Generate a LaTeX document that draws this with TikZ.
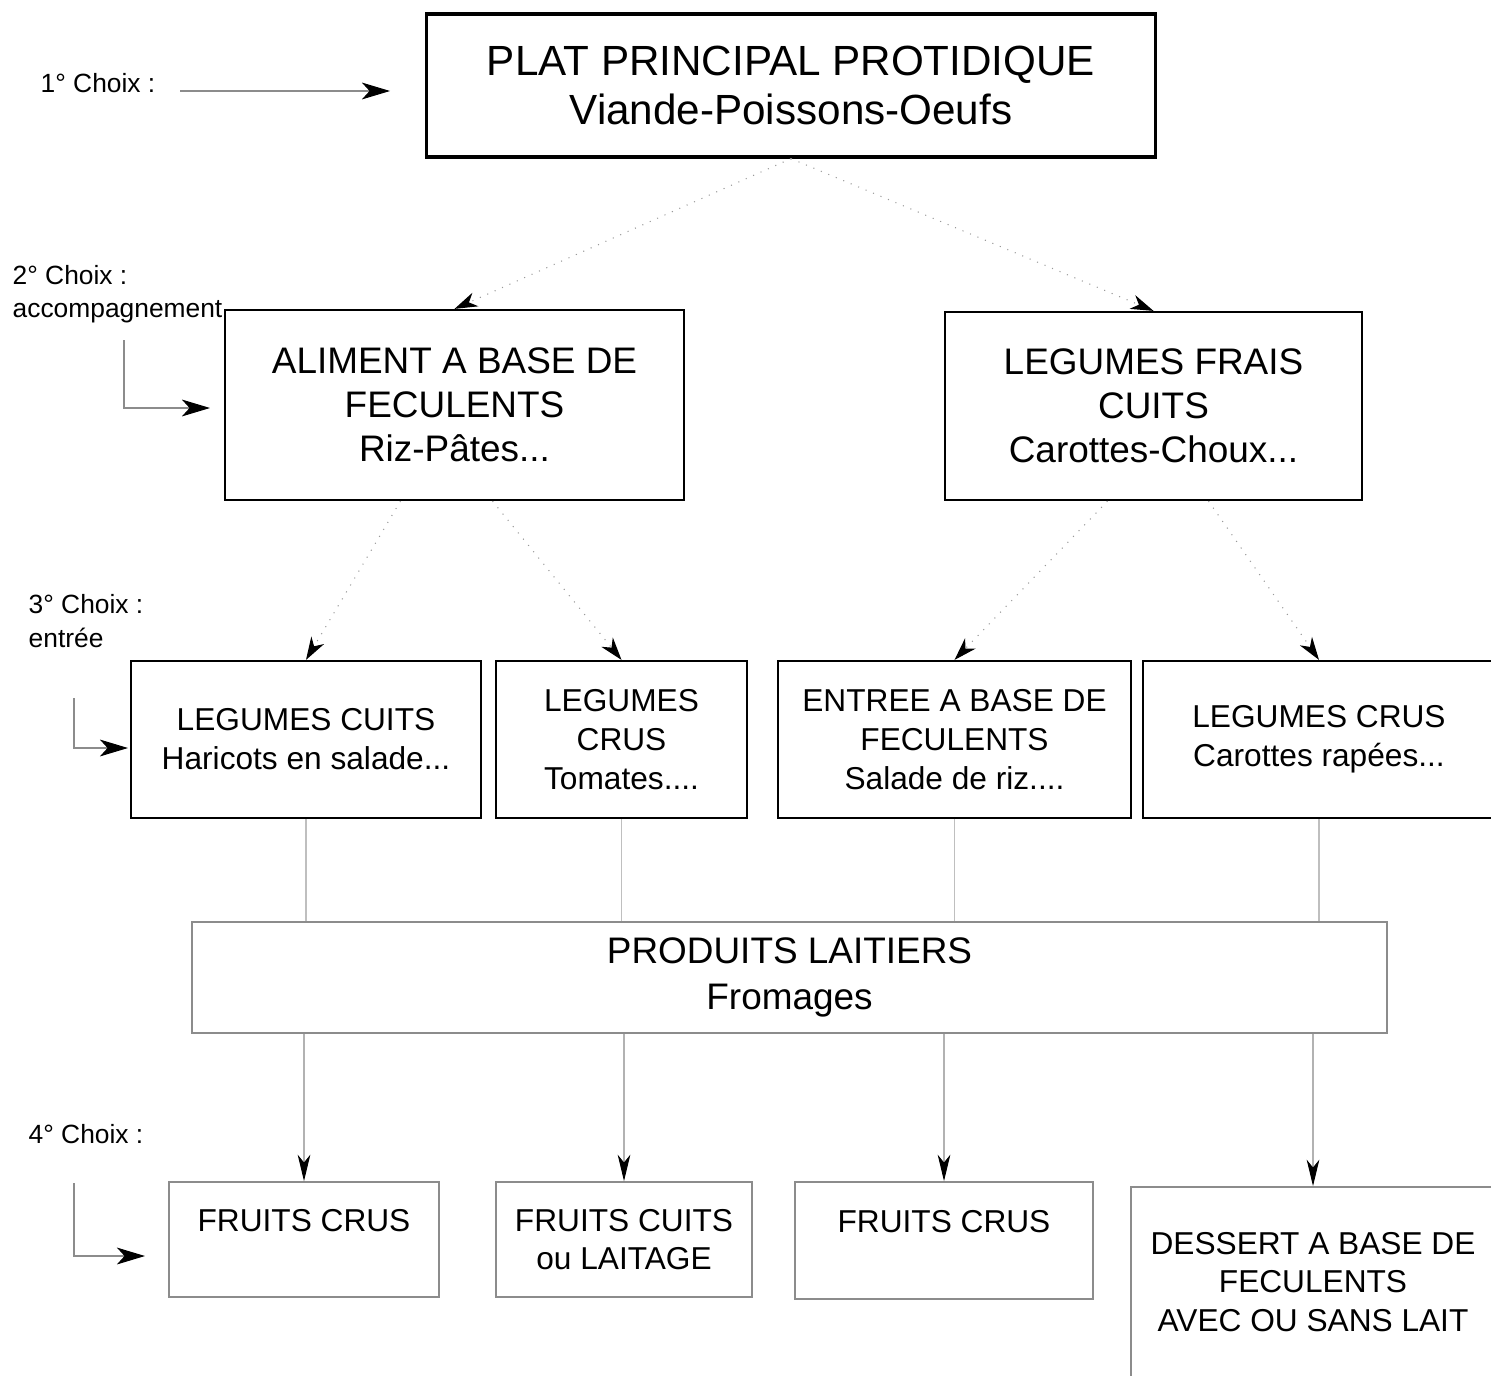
\documentclass[tikz,border=0pt]{standalone}
\usepackage{fontspec}
\setmainfont{Liberation Sans}
\usetikzlibrary{calc, positioning, arrows.meta}

\begin{document}
\begin{tikzpicture}[x=0.01cm, y=-0.01cm,
  box/.style={rectangle, draw, align=center, inner sep=0pt},
  mainbox/.style={box, line width=0.9pt, font=\fontsize{12}{13.7}\selectfont},
  sidebox/.style={box, line width=0.6pt, font=\fontsize{10.5}{12.5}\selectfont},
  entreebox/.style={box, line width=0.6pt, minimum height=1.57cm, font=\fontsize{9}{11.1}\selectfont},
  laitbox/.style={box, draw=black!45, line width=0.5pt, font=\fontsize{10.5}{13.1}\selectfont},
  dessertbox/.style={box, draw=black!45, line width=0.5pt, font=\fontsize{9}{10.9}\selectfont},
  choix/.style={anchor=west, align=left, inner sep=0pt, font=\fontsize{7.5}{9.5}\selectfont},
  tip/.style={-{Stealth[black, length=6.5pt, width=4.2pt, inset=2pt]}},
  link/.style={tip, draw=black!40, line width=0.3pt, dotted},
  drop/.style={-{Stealth[black, length=7.5pt, width=3.6pt, inset=2.2pt]}, draw=black!30, line width=0.3pt},
  feed/.style={draw=black!25, line width=0.3pt},
  hint/.style={-{Stealth[black, length=8pt, width=4.8pt, inset=2.2pt]}, draw=black!45, line width=0.3pt}]
  \useasboundingbox (0,0) rectangle (1491,1376);

  % 1er choix
  \node[mainbox, minimum width=7.28cm, minimum height=1.43cm] (plat) at (791,85.5)
    {PLAT PRINCIPAL PROTIDIQUE\\Viande-Poissons-Oeufs};

  % 2e choix
  \node[sidebox, minimum width=4.59cm, minimum height=1.90cm] (feculents) at (454.5,405)
    {ALIMENT A BASE DE\\FECULENTS\\Riz-P\^ates...};
  \node[sidebox, minimum width=4.17cm, minimum height=1.88cm] (frais) at (1153.5,406)
    {LEGUMES FRAIS\\CUITS\\Carottes-Choux...};

  % 3e choix
  \node[entreebox, minimum width=3.50cm] (cuits) at (306,739.5)
    {LEGUMES CUITS\\Haricots en salade...};
  \node[entreebox, minimum width=2.51cm] (crus) at (621.5,739.5)
    {LEGUMES\\CRUS\\Tomates....};
  \node[entreebox, minimum width=3.53cm] (entree) at (954.5,739.5)
    {ENTREE A BASE DE\\FECULENTS\\Salade de riz....};
  \node[entreebox, minimum width=3.52cm] (crusbis) at (1319,739.5)
    {LEGUMES CRUS\\Carottes rap\'ees...};

  \node[laitbox, minimum width=11.95cm, minimum height=1.11cm] (laitiers) at (789.5,977.5)
    {PRODUITS LAITIERS\\Fromages};

  % 4e choix
  \node[dessertbox, minimum width=2.70cm, minimum height=1.15cm] (fruitsa) at (304,1239.5)
    {FRUITS CRUS\\\mbox{}};
  \node[dessertbox, minimum width=2.56cm, minimum height=1.15cm] (fruitsb) at (624,1239.5)
    {FRUITS CUITS\\ou LAITAGE};
  \node[dessertbox, minimum width=2.98cm, minimum height=1.17cm] (fruitsc) at (944,1240.5)
    {FRUITS CRUS\\\mbox{}};
  \node[dessertbox, minimum width=3.64cm, minimum height=1.90cm] (dessert) at (1313,1282)
    {DESSERT A BASE DE\\FECULENTS\\AVEC OU SANS LAIT};

  % legende a gauche
  \node[choix] (choixa) at (40,83) {1\textdegree{} Choix :};
  \node[choix] (choixb) at (12,294) {2\textdegree{} Choix :\\accompagnement};
  \node[choix] (choixc) at (28,621) {3\textdegree{} Choix :\\entr\'ee};
  \node[choix] (choixd) at (28,1134) {4\textdegree{} Choix :};
  \coordinate (ha) at (180,91);  \coordinate (hae) at (390,91);
  \coordinate (hb) at (124,340); \coordinate (hbe) at (210,408);
  \coordinate (hc) at (74,698);  \coordinate (hce) at (128,748);
  \coordinate (hd) at (74,1183); \coordinate (hde) at (145,1256);
  \draw[hint] (ha) -- (hae);
  \draw[hint] (hb) |- (hbe);
  \draw[hint] (hc) |- (hce);
  \draw[hint] (hd) |- (hde);

  \path
    (plat.south) edge[link] (feculents.north)
    (plat.south) edge[link] (frais.north)
    ($(feculents.south)+(-54,0)$) edge[link] (cuits.north)
    ($(feculents.south)+(38,0)$) edge[link] (crus.north)
    ($(frais.south)+(-46,0)$) edge[link] (entree.north)
    ($(frais.south)+(55,0)$) edge[link] (crusbis.north);

  \path
    (cuits.south) edge[feed] (cuits.south |- laitiers.north)
    (crus.south) edge[feed] (crus.south |- laitiers.north)
    (entree.south) edge[feed] (entree.south |- laitiers.north)
    (crusbis.south) edge[feed] (crusbis.south |- laitiers.north);

  \path
    (fruitsa.north |- laitiers.south) edge[drop] (fruitsa.north)
    (fruitsb.north |- laitiers.south) edge[drop] (fruitsb.north)
    (fruitsc.north |- laitiers.south) edge[drop] (fruitsc.north)
    (dessert.north |- laitiers.south) edge[drop] (dessert.north);
\end{tikzpicture}
\end{document}
